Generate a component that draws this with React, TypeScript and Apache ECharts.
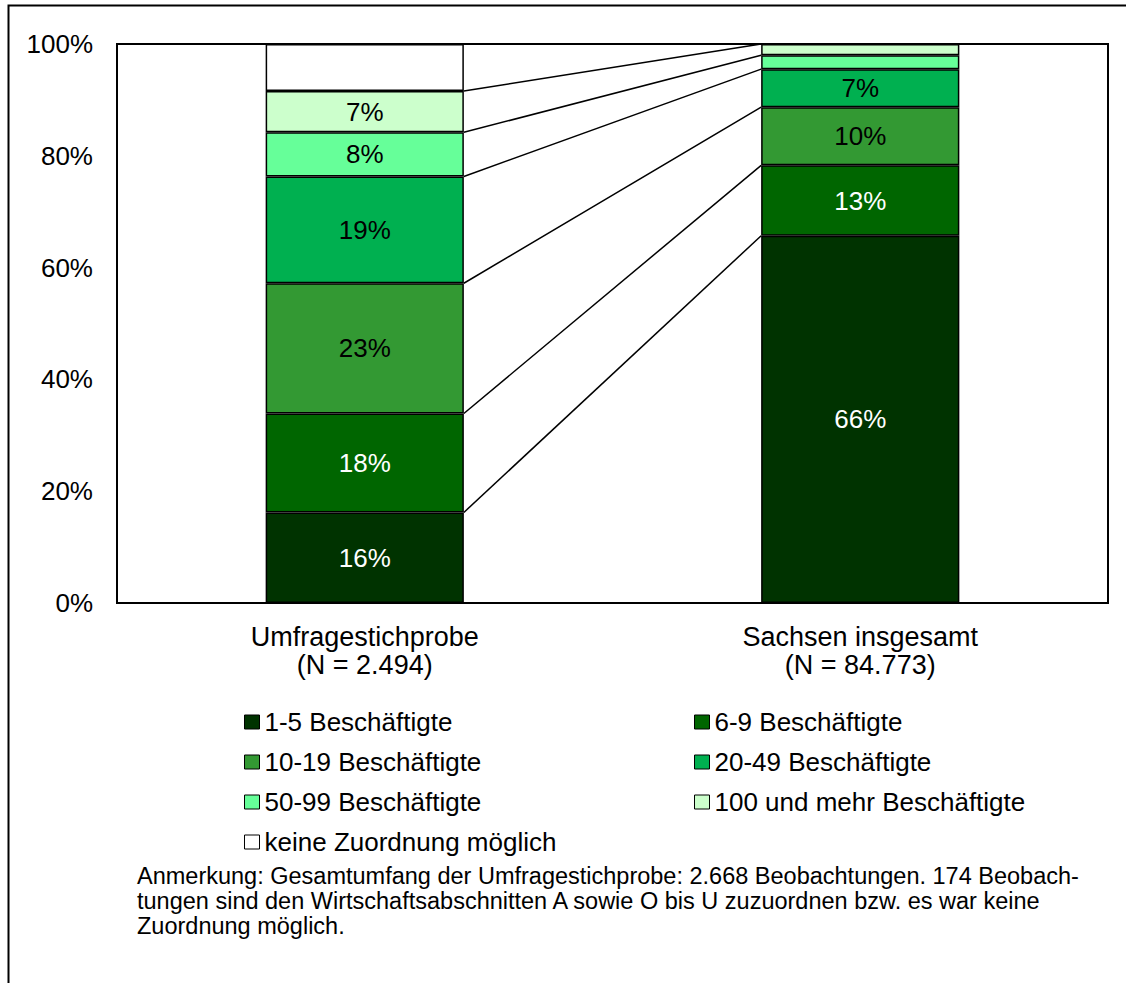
import React, { useEffect, useRef } from "react";
import * as echarts from "echarts";

const categories = ["Umfragestichprobe\n(N = 2.494)", "Sachsen insgesamt\n(N = 84.773)"];
const seriesNames = [
  "1-5 Beschäftigte",
  "6-9 Beschäftigte",
  "10-19 Beschäftigte",
  "20-49 Beschäftigte",
  "50-99 Beschäftigte",
  "100 und mehr Beschäftigte",
  "keine Zuordnung möglich",
];
const umfrage = [16.2, 17.7, 23.3, 19.1, 7.9, 7.4, 8.4];
const sachsen = [65.7, 12.6, 10.4, 6.8, 2.5, 2.0, 0];
const colors = ["#003300", "#006600", "#339933", "#00B050", "#66FF99", "#CCFFCC", "#FFFFFF"];
const labelColors = ["#fff", "#fff", "#000", "#000", "#000", "#000", "#000"];
const showLabel = [true, true, true, true, true, true, false];
const yTicks = [0, 20, 40, 60, 80, 100];
const noteText =
  "Anmerkung: Gesamtumfang der Umfragestichprobe: 2.668 Beobachtungen. 174 Beobach-\ntungen sind den Wirtschaftsabschnitten A sowie O bis U zuzuordnen bzw. es war keine\nZuordnung möglich.";

const FONT = "'Liberation Sans', Arial, sans-serif";

function cumulative(arr: number[]): number[] {
  const out: number[] = [];
  let s = 0;
  for (let i = 0; i < arr.length - 1; i++) {
    s += arr[i];
    out.push(s);
  }
  return out;
}

export default function App() {
  const ref = useRef<HTMLDivElement>(null);
  useEffect(() => {
    if (!ref.current) return;
    const chart = echarts.init(ref.current, null, { renderer: "svg" });
    const cumA = cumulative(umfrage);
    const cumB = cumulative(sachsen);

    const barSeries = seriesNames.map((name, i) => ({
      name,
      type: "bar",
      stack: "total",
      barWidth: "40%",
      data: [umfrage[i], sachsen[i]],
      itemStyle: { color: colors[i], borderColor: "#000", borderWidth: 1.5 },
      label: {
        show: showLabel[i],
        position: "inside",
        fontSize: 26,
        fontFamily: FONT,
        color: labelColors[i],
        formatter: (p: any) => (p.value >= 5 ? Math.round(p.value) + "%" : ""),
      },
    }));

    const lineSeries = {
      name: "Verbindungslinien",
      type: "custom",
      data: cumA.map((v) => [0, v]),
      renderItem: (params: any, api: any) => {
        const i = params.dataIndex;
        const w = api.size([1, 0])[0] * 0.4;
        const p1 = api.coord([0, cumA[i]]);
        const p2 = api.coord([1, cumB[i]]);
        return {
          type: "line",
          shape: { x1: p1[0] + w / 2, y1: p1[1], x2: p2[0] - w / 2, y2: p2[1] },
          style: { stroke: "#000", lineWidth: 1.5 },
        };
      },
      z: 3,
    };

    const legendCommon = {
      orient: "vertical",
      padding: 0,
      itemWidth: 15,
      itemHeight: 14,
      itemGap: 14,
      icon: "rect",
      itemStyle: { borderColor: "#000", borderWidth: 1 },
      textStyle: { fontSize: 26, fontFamily: FONT, color: "#000", lineHeight: 26 },
    };

    chart.setOption({
      animation: false,
      backgroundColor: "#fff",
      textStyle: { fontFamily: FONT },
      grid: {
        left: 117,
        top: 44,
        width: 991,
        height: 559,
        show: true,
        borderColor: "#000",
        borderWidth: 2,
        backgroundColor: "transparent",
      },
      xAxis: {
        type: "category",
        data: categories,
        axisLine: { show: true, lineStyle: { color: "#000", width: 2 } },
        axisTick: { show: false },
        axisLabel: { fontSize: 27, color: "#000", lineHeight: 28, margin: 20, fontFamily: FONT },
      },
      yAxis: {
        type: "value",
        min: yTicks[0],
        max: yTicks[yTicks.length - 1],
        interval: 20,
        axisLine: { show: true, lineStyle: { color: "#000", width: 2 } },
        axisTick: { show: false },
        splitLine: { show: false },
        axisLabel: { fontSize: 26, color: "#000", margin: 24, formatter: "{value}%", fontFamily: FONT },
      },
      legend: [
        { ...legendCommon, left: 244, top: 709, data: [seriesNames[0], seriesNames[2], seriesNames[4], seriesNames[6]] },
        { ...legendCommon, left: 694, top: 709, data: [seriesNames[1], seriesNames[3], seriesNames[5]] },
      ],
      graphic: [
        {
          type: "polyline",
          shape: { points: [[8.5, 983], [8.5, 5.5], [1126, 5.5]] },
          style: { stroke: "#000", lineWidth: 2, fill: "none" },
        },
        {
          type: "text",
          left: 137,
          top: 863,
          style: { text: noteText, fontSize: 23.5, lineHeight: 25, fill: "#000", fontFamily: FONT },
        },
      ],
      series: [...barSeries, lineSeries],
    });
    return () => chart.dispose();
  }, []);
  return <div ref={ref} style={{ position: "fixed", left: 0, top: 0, width: 1135, height: 983 }} />;
}
